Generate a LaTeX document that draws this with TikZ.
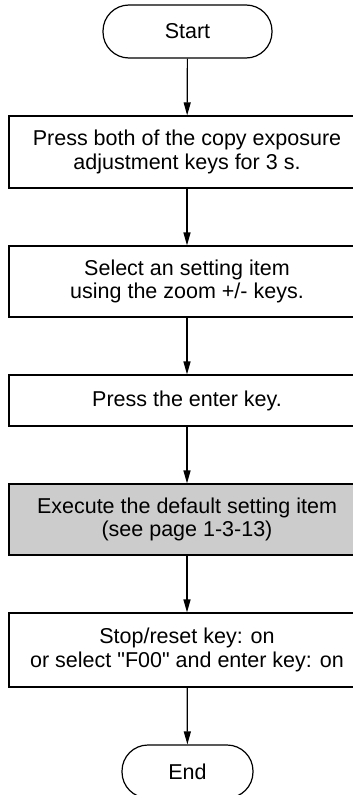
\documentclass[tikz,border=0pt]{standalone}
\usepackage{fontspec}
\setmainfont{Liberation Sans}
\usetikzlibrary{arrows.meta}
\begin{document}
\begin{tikzpicture}[x=1pt,y=1pt,
    every node/.style={font=\fontsize{21.5}{23.5}\selectfont, align=center, inner sep=0pt},
    term/.style={draw, line width=1.2pt, rounded corners=26pt, minimum height=53pt},
    stepbox/.style={draw, line width=1.2pt, minimum width=356pt},
    flow/.style={line width=1.2pt, -{Triangle[width=7pt,length=13pt]}}]
    \useasboundingbox (0,0) rectangle (353,-795);
    \clip (0,0) rectangle (353,-795);
    \node[term, minimum width=169pt] (start) at (187.5,-31.5) {Start};
    \node[stepbox, minimum height=72pt] (press) at (187,-152) {Press both of the copy exposure\\adjustment keys for 3 s.};
    \node[stepbox, minimum height=71pt] (select) at (187,-281.5) {Select an setting item\\using the zoom +/- keys.};
    \node[stepbox, minimum height=51pt] (enter) at (187,-400.5) {Press the enter key.};
    \node[stepbox, fill=black!20, minimum height=71pt] (exec) at (187,-519.5) {Execute the default setting item\\(see page 1-3-13)};
    \node[stepbox, minimum height=74pt] (stop) at (187,-650) {Stop/reset key: on\\or select \textquotedbl F00\textquotedbl\ and enter key: on};
    \node[term, minimum width=131pt] (end) at (187.5,-771.5) {End};
    \draw[flow] (start) -- (press);
    \draw[flow] (press) -- (select);
    \draw[flow] (select) -- (enter);
    \draw[flow] (enter) -- (exec);
    \draw[flow] (exec) -- (stop);
    \draw[flow] (stop) -- (end);
\end{tikzpicture}
\end{document}
